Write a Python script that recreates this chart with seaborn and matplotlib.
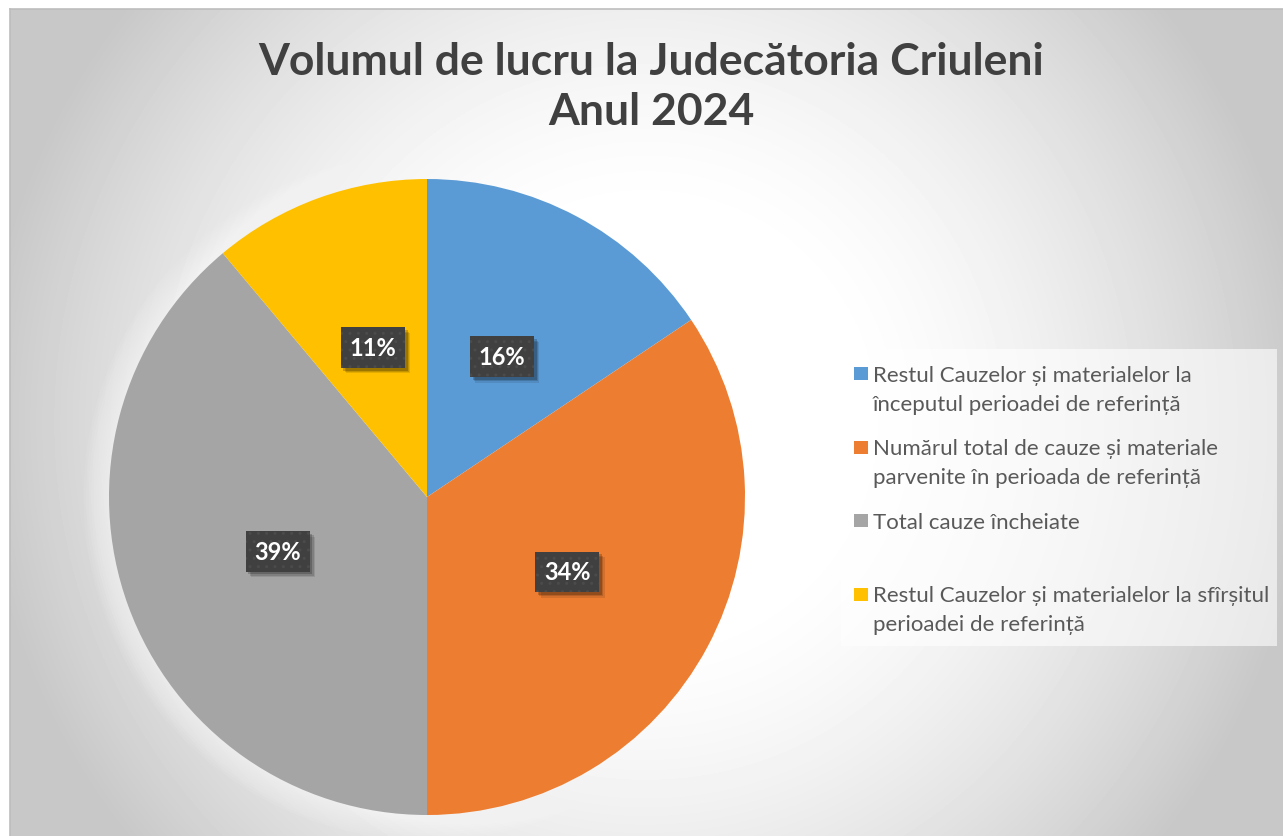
"""Pie chart: workload at Judecătoria Criuleni, year 2024."""

import matplotlib.pyplot as plt
import matplotlib.patheffects as pe
import numpy as np
import seaborn as sns
from matplotlib.patches import Circle, Rectangle

# data (shares in %)
categories = [
    "Restul Cauzelor și materialelor la\nînceputul perioadei de referință",
    "Numărul total de cauze și materiale\nparvenite în perioada de referință",
    "Total cauze încheiate",
    "Restul Cauzelor și materialelor la sfîrșitul\nperioadei de referință",
]
shares = [15.6, 34.4, 38.9, 11.1]
colors = ["#5B9BD5", "#ED7D31", "#A5A5A5", "#FFC000"]
title_lines = ["Volumul de lucru la Judecătoria Criuleni", "Anul 2024"]

W, H = 1283, 837


def fx(x):
    return x / W


def fy(y):
    return 1 - y / H


sns.set_theme(style="white")
plt.rcParams["font.family"] = ["Lato", "DejaVu Sans"]
plt.rcParams["hatch.linewidth"] = 1.0

fig = plt.figure(figsize=(W / 100, H / 100), dpi=100, facecolor="white")

# chart area with a soft radial gradient
bg = fig.add_axes([fx(10), 0, 1 - fx(10), fy(10)])
xs = np.arange(10, W) + 0.5
ys = np.arange(10, H) + 0.5
gx, gy = np.meshgrid(xs, ys)
dist = np.hypot(gx - 646, gy - 423)
t = np.clip((dist - 200) / 440, 0, 1.05)
shade = 1 - 0.2 * t ** 1.5
bg.imshow(shade, cmap="gray", vmin=0, vmax=1, aspect="auto", interpolation="bilinear")
bg.set_xticks([])
bg.set_yticks([])
for side in ["right", "bottom"]:
    bg.spines[side].set_visible(False)
for side in ["top", "left"]:
    bg.spines[side].set_color("#bdbdbd")
    bg.spines[side].set_linewidth(1.2)

# pie
R = 318
pad = 1.15
ax = fig.add_axes([fx(427 - R * pad), fy(498 + R * pad), 2 * R * pad / W, 2 * R * pad / H])
ax.patch.set_alpha(0)

for k in range(10):
    ax.add_patch(Circle((0, 0), 1 + 0.008 * (k + 1), fc="white", alpha=0.07, lw=0, zorder=0))

wedges, texts, autotexts = ax.pie(
    shares,
    colors=colors,
    startangle=90,
    counterclock=False,
    autopct=lambda p: f"{p:.0f}%",
    pctdistance=0.5,
    wedgeprops=dict(linewidth=0, edgecolor="none"),
    textprops=dict(color="white", fontsize=17, fontweight="bold"),
)
ax.set_xlim(-pad, pad)
ax.set_ylim(-pad, pad)
ax.axis("off")

for t_ in autotexts:
    t_.set_bbox(dict(boxstyle="square,pad=0.37", fc="#404040", ec="#4b4b4b", lw=0, hatch=".."))
    t_.get_bbox_patch().set_path_effects([
        pe.SimplePatchShadow(offset=(4, -4), shadow_rgbFace="black", alpha=0.1, hatch=None),
        pe.SimplePatchShadow(offset=(3, -3), shadow_rgbFace="black", alpha=0.14, hatch=None),
        pe.SimplePatchShadow(offset=(2, -2), shadow_rgbFace="black", alpha=0.2, hatch=None),
        pe.Normal(),
    ])

# title
for i, line in enumerate(title_lines):
    fig.text(fx(651), fy(75 + 50 * i), line, ha="center", va="baseline",
             fontsize=32, fontweight="bold", color="#404040")

# legend
fig.add_artist(Rectangle((fx(841), fy(647)), (1277 - 841) / W, (647 - 350) / H,
                         transform=fig.transFigure, fc="white", alpha=0.6, lw=0))
for i, (label, col) in enumerate(zip(categories, colors)):
    base = 382 + i * 73.5
    fig.add_artist(Rectangle((fx(854), fy(base - 1)), 14 / W, 13 / H,
                             transform=fig.transFigure, fc=col, lw=0))
    for j, line in enumerate(label.split("\n")):
        fig.text(fx(873), fy(base + 29 * j), line, va="baseline",
                 fontsize=16, color="#595959")

fig.savefig("out.png", dpi=100)
